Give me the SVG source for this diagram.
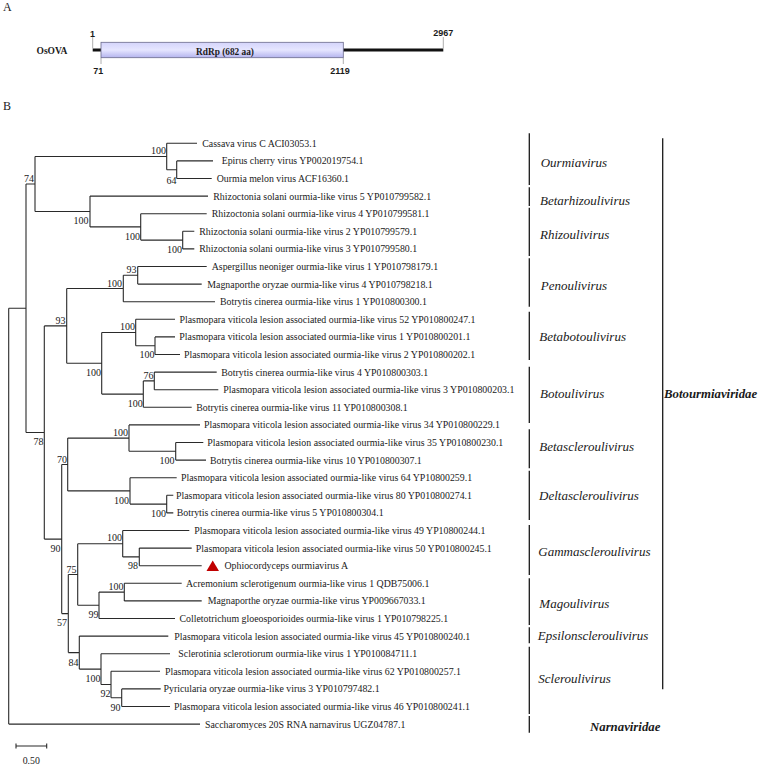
<svg xmlns="http://www.w3.org/2000/svg" width="767" height="765" viewBox="0 0 767 765">
<style>
text{font-family:"Liberation Serif","Times New Roman",serif;fill:#1a1a1a}
.leaf{font-size:9.85px}
.bs{font-size:10px;text-anchor:end}
.genus{font-size:13px;font-style:italic}
.family{font-size:12.8px;font-style:italic;font-weight:bold}
.panel{font-size:12px}
.pos{font-family:"Liberation Sans",Arial,sans-serif;font-size:9px;font-weight:bold}
.tree{fill:none;stroke:#2a2a2a;stroke-width:1.1}
.bar{fill:none;stroke:#1a1a1a;stroke-width:1.3}
.tick{stroke:#999;stroke-width:0.8}
</style>
<defs>
<linearGradient id="box" x1="0" y1="0" x2="0" y2="1">
<stop offset="0" stop-color="#d4d4fb"/>
<stop offset="0.5" stop-color="#e6e6ff"/>
<stop offset="1" stop-color="#b4b4ee"/>
</linearGradient>
</defs>

<g id="panelA">
<text class="panel" x="3" y="11">A</text>
<text x="36.5" y="53.5" style="font-size:9.5px;font-weight:bold">OsOVA</text>
<line x1="92.7" y1="50" x2="443.3" y2="50" stroke="#111" stroke-width="3"/>
<line class="tick" x1="92.7" y1="37" x2="92.7" y2="48.5"/>
<line class="tick" x1="443.3" y1="37" x2="443.3" y2="48.5"/>
<line class="tick" x1="101" y1="58" x2="101" y2="64"/>
<line class="tick" x1="343.3" y1="58" x2="343.3" y2="64"/>
<rect x="101" y="42.3" width="242.3" height="15.4" fill="url(#box)" stroke="#6a6a8a" stroke-width="0.8"/>
<text x="225" y="54.8" text-anchor="middle" style="font-size:9.3px;font-weight:bold">RdRp (682 aa)</text>
<text class="pos" x="92.5" y="36.5" text-anchor="middle">1</text>
<text class="pos" x="98.3" y="73.5" text-anchor="middle">71</text>
<text class="pos" x="340" y="73.5" text-anchor="middle">2119</text>
<text class="pos" x="443.3" y="36" text-anchor="middle">2967</text>
</g>

<text class="panel" x="3" y="110">B</text>

<g id="connectors">
<path class="tree" d="
M166.7 143.3H197 M176.7 160.9H213 M176.7 178.5H211.7
M90 196.1H208 M140.7 213.7H206.7 M182.7 231.3H194.3 M182.7 248.9H194.3
M137.7 266.5H206.7 M137.7 284.1H201.7 M123.3 301.7H215
M135.7 319.3H175 M155 336.9H175 M155 354.5H180
M154.3 372.1H216.7 M154.3 389.7H218.3 M143.3 407.3H191.7
M129 424.9H200 M175.7 442.5H203.3 M175.7 460.1H206
M130 477.7H176.7 M166.7 495.3H173.3 M166.7 512.9H173.3
M122.7 530.5H189.3 M139.3 548.1H191.7 M139.3 565.7H201.7
M124.3 583.3H181.7 M124.3 600.9H201.7 M99 618.5H175
M79.3 636.1H168.3 M101 653.7H170 M111 671.3H160 M121.7 688.9H160.7 M121.7 706.5H170
M8.7 724.1H200
M176.7 160.9V178.5 M166.7 169.7H176.7
M166.7 143.3V169.7 M35 156.5H166.7
M182.7 231.3V248.9 M140.7 240.1H182.7
M140.7 213.7V240.1 M90 226.9H140.7
M90 196.1V226.9 M35 211.5H90
M35 156.5V211.5 M26 184H35
M137.7 266.5V284.1 M123.3 275.3H137.7
M123.3 275.3V301.7 M66.7 288.5H123.3
M155 336.9V354.5 M135.7 345.7H155
M135.7 319.3V345.7 M101.7 332.5H135.7
M154.3 372.1V389.7 M143.3 380.9H154.3
M143.3 380.9V407.3 M101.7 394.1H143.3
M101.7 332.5V394.1 M66.7 363.3H101.7
M66.7 288.5V363.3 M44.3 325.9H66.7
M175.7 442.5V460.1 M129 451.3H175.7
M129 424.9V451.3 M67.7 438.1H129
M166.7 495.3V512.9 M130 504.1H166.7
M130 477.7V504.1 M67.7 490.9H130
M67.7 438.1V490.9 M61.7 464.5H67.7
M139.3 548.1V565.7 M122.7 556.9H139.3
M122.7 530.5V556.9 M77.7 543.7H122.7
M124.3 583.3V600.9 M99 592.1H124.3
M99 592.1V618.5 M77.7 605.3H99
M77.7 543.7V605.3 M68.3 574.5H77.7
M121.7 688.9V706.5 M111 697.7H121.7
M111 671.3V697.7 M101 684.5H111
M101 653.7V684.5 M79.3 669.1H101
M79.3 636.1V669.1 M68.3 652.6H79.3
M68.3 574.5V652.6 M61.7 613.6H68.3
M61.7 464.5V613.6 M44.3 539.1H61.7
M44.3 325.9V539.1 M26 432.5H44.3
M26 184V432.5 M8.7 308.3H26
M8.7 308.3V724.1"/>
</g>

<g id="bootstrap">
<text class="bs" x="34" y="181.8">74</text>
<text class="bs" x="166" y="154.2">100</text>
<text class="bs" x="176.5" y="184.2">64</text>
<text class="bs" x="88.5" y="223.5">100</text>
<text class="bs" x="140" y="239.5">100</text>
<text class="bs" x="182" y="252.5">100</text>
<text class="bs" x="136.5" y="272.5">93</text>
<text class="bs" x="122" y="286.8">100</text>
<text class="bs" x="65.5" y="324.2">93</text>
<text class="bs" x="135" y="330.2">100</text>
<text class="bs" x="154.5" y="357.5">100</text>
<text class="bs" x="101" y="376.2">100</text>
<text class="bs" x="153.5" y="378.5">76</text>
<text class="bs" x="142.7" y="406.8">100</text>
<text class="bs" x="43.5" y="445.2">78</text>
<text class="bs" x="128" y="435.8">100</text>
<text class="bs" x="174.5" y="464.2">100</text>
<text class="bs" x="67" y="462.8">70</text>
<text class="bs" x="129" y="503.5">100</text>
<text class="bs" x="166" y="516.8">100</text>
<text class="bs" x="60.5" y="551.5">90</text>
<text class="bs" x="122" y="541.2">100</text>
<text class="bs" x="138" y="568.5">98</text>
<text class="bs" x="76.5" y="572.5">75</text>
<text class="bs" x="123.5" y="589.5">100</text>
<text class="bs" x="98.5" y="617.8">99</text>
<text class="bs" x="67" y="625.5">57</text>
<text class="bs" x="78.5" y="665.8">84</text>
<text class="bs" x="100.5" y="681.8">100</text>
<text class="bs" x="110.5" y="696.8">92</text>
<text class="bs" x="120.5" y="710.8">90</text>
</g>

<g id="leaf-cassava"><text class="leaf" x="202.3" y="146.8">Cassava virus C ACI03053.1</text></g>
<g id="leaf-epirus"><text class="leaf" x="221.7" y="164.4">Epirus cherry virus YP002019754.1</text></g>
<g id="leaf-ourmia"><text class="leaf" x="216.7" y="182">Ourmia melon virus ACF16360.1</text></g>
<g id="leaf-rs5"><text class="leaf" x="213.3" y="199.6">Rhizoctonia solani ourmia-like virus 5 YP010799582.1</text></g>
<g id="leaf-rs4"><text class="leaf" x="211.7" y="217.2">Rhizoctonia solani ourmia-like virus 4 YP010799581.1</text></g>
<g id="leaf-rs2"><text class="leaf" x="199.3" y="234.8">Rhizoctonia solani ourmia-like virus 2 YP010799579.1</text></g>
<g id="leaf-rs3"><text class="leaf" x="199.3" y="252.4">Rhizoctonia solani ourmia-like virus 3 YP010799580.1</text></g>
<g id="leaf-an1"><text class="leaf" x="211.7" y="270">Aspergillus neoniger ourmia-like virus 1 YP010798179.1</text></g>
<g id="leaf-mo4"><text class="leaf" x="207.3" y="287.6">Magnaporthe oryzae ourmia-like virus 4 YP010798218.1</text></g>
<g id="leaf-bc1"><text class="leaf" x="220" y="305.2">Botrytis cinerea ourmia-like virus 1 YP010800300.1</text></g>
<g id="leaf-pv52"><text class="leaf" x="179.5" y="322.8">Plasmopara viticola lesion associated ourmia-like virus 52 YP010800247.1</text></g>
<g id="leaf-pv1"><text class="leaf" x="179.3" y="340.4">Plasmopara viticola lesion associated ourmia-like virus 1 YP010800201.1</text></g>
<g id="leaf-pv2"><text class="leaf" x="184" y="358">Plasmopara viticola lesion associated ourmia-like virus 2 YP010800202.1</text></g>
<g id="leaf-bc4"><text class="leaf" x="221.3" y="375.6">Botrytis cinerea ourmia-like virus 4 YP010800303.1</text></g>
<g id="leaf-pv3"><text class="leaf" x="223.3" y="393.2">Plasmopara viticola lesion associated ourmia-like virus 3 YP010800203.1</text></g>
<g id="leaf-bc11"><text class="leaf" x="196.3" y="410.8">Botrytis cinerea ourmia-like virus 11 YP010800308.1</text></g>
<g id="leaf-pv34"><text class="leaf" x="204" y="428.4">Plasmopara viticola lesion associated ourmia-like virus 34 YP010800229.1</text></g>
<g id="leaf-pv35"><text class="leaf" x="207.3" y="446">Plasmopara viticola lesion associated ourmia-like virus 35 YP010800230.1</text></g>
<g id="leaf-bc10"><text class="leaf" x="210" y="463.6">Botrytis cinerea ourmia-like virus 10 YP010800307.1</text></g>
<g id="leaf-pv64"><text class="leaf" x="181" y="481.2">Plasmopara viticola lesion associated ourmia-like virus 64 YP10800259.1</text></g>
<g id="leaf-pv80"><text class="leaf" x="176" y="498.8">Plasmopara viticola lesion associated ourmia-like virus 80 YP010800274.1</text></g>
<g id="leaf-bc5"><text class="leaf" x="176.7" y="516.4">Botrytis cinerea ourmia-like virus 5 YP010800304.1</text></g>
<g id="leaf-pv49"><text class="leaf" x="194.3" y="534">Plasmopara viticola lesion associated ourmia-like virus 49 YP10800244.1</text></g>
<g id="leaf-pv50"><text class="leaf" x="195.8" y="551.6">Plasmopara viticola lesion associated ourmia-like virus 50 YP010800245.1</text></g>
<g id="leaf-osova"><polygon points="206.5,571 219,571 212.7,560.5" fill="#c00000"/><text class="leaf" x="224.5" y="569.2">Ophiocordyceps ourmiavirus A</text></g>
<g id="leaf-as1"><text class="leaf" x="186" y="586.8">Acremonium sclerotigenum ourmia-like virus 1 QDB75006.1</text></g>
<g id="leaf-mo"><text class="leaf" x="207.7" y="604.4">Magnaporthe oryzae ourmia-like virus YP009667033.1</text></g>
<g id="leaf-cg1"><text class="leaf" x="179.5" y="622">Colletotrichum gloeosporioides ourmia-like virus 1 YP010798225.1</text></g>
<g id="leaf-pv45"><text class="leaf" x="174.3" y="639.6">Plasmopara viticola lesion associated ourmia-like virus 45 YP010800240.1</text></g>
<g id="leaf-ss1"><text class="leaf" x="178.3" y="657.2">Sclerotinia sclerotiorum ourmia-like virus 1 YP010084711.1</text></g>
<g id="leaf-pv62"><text class="leaf" x="165" y="674.8">Plasmopara viticola lesion associated ourmia-like virus 62 YP010800257.1</text></g>
<g id="leaf-po3"><text class="leaf" x="163.5" y="692.4">Pyricularia oryzae ourmia-like virus 3 YP010797482.1</text></g>
<g id="leaf-pv46"><text class="leaf" x="174" y="710">Plasmopara viticola lesion associated ourmia-like virus 46 YP010800241.1</text></g>
<g id="leaf-sc20s"><text class="leaf" x="205" y="727.6">Saccharomyces 20S RNA narnavirus UGZ04787.1</text></g>

<g id="clades">
<path class="bar" d="M529.3 133.3V185 M529.3 187.3V206 M529.3 207.8V256 M529.3 258.3V306.7 M529.3 311.7V360 M529.3 366.7V423 M529.3 429.3V468.3 M529.3 470.7V520 M529.3 525V575 M529.3 578.3V625 M529.3 627.3V643.3 M529.3 646.7V714 M529.3 716V732.7 M662.7 138.3V689.3"/>
<g id="g-ourmiavirus"><text class="genus" x="540.7" y="166.8">Ourmiavirus</text></g>
<g id="g-betarhizoulivirus"><text class="genus" x="540" y="204.5">Betarhizoulivirus</text></g>
<g id="g-rhizoulivirus"><text class="genus" x="540" y="238.5">Rhizoulivirus</text></g>
<g id="g-penoulivirus"><text class="genus" x="540.7" y="289.5">Penoulivirus</text></g>
<g id="g-betabotoulivirus"><text class="genus" x="539.3" y="341.2">Betabotoulivirus</text></g>
<g id="g-botoulivirus"><text class="genus" x="540" y="397.8">Botoulivirus</text></g>
<g id="g-betascleroulivirus"><text class="genus" x="539.3" y="451.2">Betascleroulivirus</text></g>
<g id="g-deltascleroulivirus"><text class="genus" x="539" y="499.5">Deltascleroulivirus</text></g>
<g id="g-gammascleroulivirus"><text class="genus" x="538.3" y="556.2">Gammascleroulivirus</text></g>
<g id="g-magoulivirus"><text class="genus" x="539.3" y="607.8">Magoulivirus</text></g>
<g id="g-epsilonscleroulivirus"><text class="genus" x="537.7" y="639.5">Epsilonscleroulivirus</text></g>
<g id="g-scleroulivirus"><text class="genus" x="538.3" y="682.8">Scleroulivirus</text></g>
<g id="f-narnaviridae"><text class="family" x="590" y="730.5">Narnaviridae</text></g>
<g id="f-botourmiaviridae"><text class="family" x="664" y="397.8">Botourmiaviridae</text></g>
</g>

<g id="scalebar">
<path class="tree" d="M16 746H46.7 M16 743.5V748.5 M46.7 743.5V748.5"/>
<text class="leaf" x="31.3" y="764" text-anchor="middle">0.50</text>
</g>
</svg>
